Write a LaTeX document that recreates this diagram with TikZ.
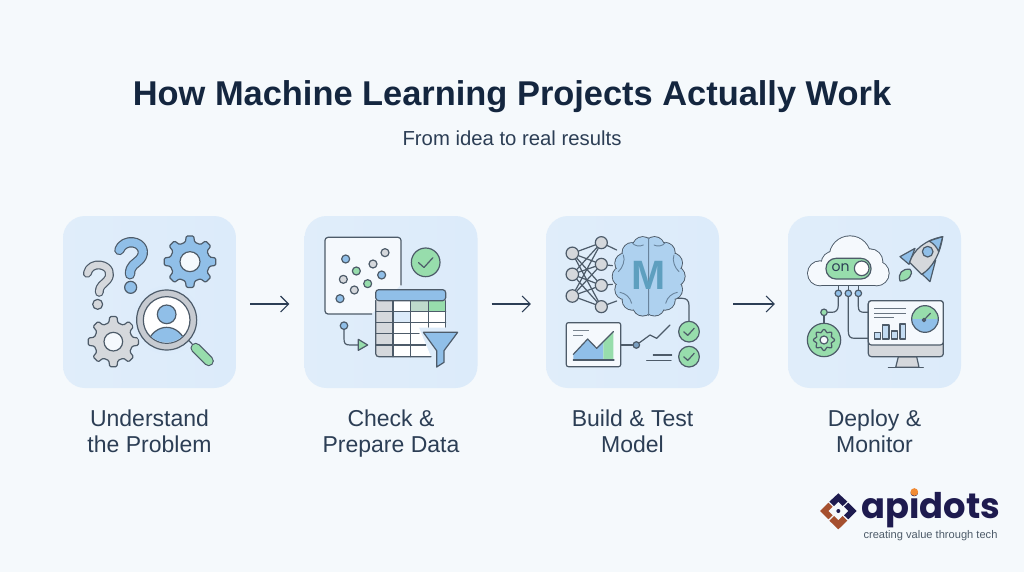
\documentclass[tikz,border=0pt]{standalone}
\usepackage{fontspec}
\setmainfont{Liberation Sans}
\newfontfamily\logofont{Poppins}
\usetikzlibrary{arrows.meta,calc}
\definecolor{bgc}{HTML}{F5F9FC}
\definecolor{panelc}{HTML}{DCEBFA}
\definecolor{inkc}{HTML}{14263F}
\definecolor{subc}{HTML}{2C3E55}
\definecolor{linec}{HTML}{4D5B69}
\definecolor{bluec}{HTML}{90BFE8}
\definecolor{grayc}{HTML}{D5D8DC}
\definecolor{greenc}{HTML}{97DDAC}
\definecolor{whitec}{HTML}{F5F9FD}
\definecolor{navyc}{HTML}{1E1B4F}
\definecolor{rustc}{HTML}{A5502F}
\definecolor{orangec}{HTML}{F08A34}
\definecolor{mletter}{HTML}{5E9FBF}
\tikzset{
  panel/.style={rectangle,rounded corners=22pt,minimum width=173pt,minimum height=172pt,inner sep=0pt,left color=panelc!85!bgc,right color=panelc,draw=none},
  flowarrow/.style={draw=subc,line width=1.1pt,-{Straight Barb[length=8pt,width=16pt,line width=1.1pt]}},
  caption/.style={font=\fontsize{23}{26}\selectfont,text=subc,align=center,inner sep=0pt,anchor=north},
  ic/.style={draw=linec,line width=1.2pt,line join=round,line cap=round},
  dot/.style={circle,draw=linec,line width=1.2pt,inner sep=0pt},
  icon/.style={x=0.33333pt,y=-0.33333pt}
}
% gear: cx cy router rroot rhole teeth fill
\newcommand{\gearicon}[7]{%
  \begin{scope}[shift={(#1,#2)}]
    \draw[ic,fill=#7,rounded corners=1.2pt] ({-0.3*360/#6}:#4)
      \foreach \i in {1,...,#6}{
        -- ({(\i-1.18)*360/#6}:#3) -- ({(\i-0.82)*360/#6}:#3) -- ({(\i-0.7)*360/#6}:#4) -- ({(\i-0.3)*360/#6}:#4)
      } -- cycle;
    \draw[ic,fill=whitec] (0,0) circle (#5);
  \end{scope}}
% doubled stroke
\newcommand{\fatstroke}[3]{%
  \draw[linec,line width=#2+2.4pt,line cap=round,line join=round] #3;
  \draw[#1,line width=#2,line cap=round,line join=round] #3;}
\newcommand{\okmark}[3]{%
  \draw[ic,fill=greenc] (#1,#2) circle (#3);
  \draw[ic] (#1-0.5*#3,#2+0.02*#3) -- (#1-0.12*#3,#2+0.36*#3) -- (#1+0.5*#3,#2-0.32*#3);}
\begin{document}
\begin{tikzpicture}[x=1pt,y=-1pt]
\useasboundingbox (0,0) rectangle (1024,572);
\fill[bgc] (0,0) rectangle (1024,572);

\node[inner sep=0pt,text=inkc] (title) at (512,97) {\fontsize{34.4}{40}\selectfont\bfseries How Machine Learning Projects Actually Work};
\node[inner sep=0pt,text=subc] (sub) at (512,138) {\fontsize{20.3}{24}\selectfont From idea to real results};

\node[panel] (p1) at (149.5,302) {};
\node[panel] (p2) at (391,302) {};
\node[panel] (p3) at (632.5,302) {};
\node[panel] (p4) at (874.5,302) {};

\draw[flowarrow] ($(p1.east)+(14,2)$) -- ($(p2.west)+(-15,2)$);
\draw[flowarrow] ($(p2.east)+(14,2)$) -- ($(p3.west)+(-15,2)$);
\draw[flowarrow] ($(p3.east)+(14,2)$) -- ($(p4.west)+(-13,2)$);

\node[caption] (c1) at (149.5,410) {Understand\\the Problem};
\node[caption] (c2) at (391,410) {Check \&\\Prepare Data};
\node[caption] (c3) at (632.5,410) {Build \& Test\\Model};
\node[caption] (c4) at (874.5,410) {Deploy \&\\Monitor};

%% ---------- panel 1
\begin{scope}[shift={(50,205)},icon]
  \fatstroke{grayc}{6.5pt}{(112,205) .. controls (116,185) and (135,178) .. (150,180) .. controls (178,184) and (186,207) .. (172,225) .. controls (160,240) and (148,240) .. (148,262)}
  \draw[ic,fill=grayc] (143,298) circle (15);
  \fatstroke{bluec}{8pt}{(208,135) .. controls (214,118) and (232,110) .. (248,112) .. controls (276,115) and (288,142) .. (270,163) .. controls (256,178) and (240,180) .. (240,208)}
  \draw[ic,fill=bluec] (242,247) circle (18);
  \gearicon{420}{170}{78}{60}{30}{8}{bluec}
  \gearicon{190}{410}{76}{58}{28}{8}{grayc}
  \fill[panelc] (350,345) circle (102);
  \draw[ic] (415,405) -- (434,425);
  \fatstroke{greenc}{8pt}{(437,429) -- (476,468)}
  \draw[ic,fill=grayc!90!linec] (350,345) circle (90);
  \draw[ic,fill=white] (350,345) circle (70);
  \begin{scope}
    \clip (350,345) circle (68);
    \draw[ic,fill=bluec] (290,420) .. controls (300,385) and (325,367) .. (350,367) .. controls (375,367) and (400,385) .. (410,420) -- cycle;
  \end{scope}
  \draw[ic,fill=bluec] (350,328) circle (28);
\end{scope}

%% ---------- panel 2
\begin{scope}[shift={(295,205)},icon]
  \draw[ic,fill=whitec,rounded corners=3pt] (230,327) -- (90,327) -- (90,97) -- (318,97) -- (318,240);
  \foreach \x/\y/\c in {152/162/bluec,270/143/grayc,234/177/grayc,184/198/greenc,260/210/bluec,145/223/grayc,218/236/greenc,178/255/grayc,135/281/bluec}
    \draw[ic,fill=\c] (\x,\y) circle (12);
  \okmark{392}{172}{43}
  % table
  \fill[white] (242,262) -- (452,262) -- (452,368) -- (372,368) -- (408,455) -- (242,455) -- cycle;
  \fill[grayc] (242,287) rectangle (294,455);
  \fill[greenc] (400,287) rectangle (452,320);
  \fill[greenc!35!grayc] (347,287) rectangle (400,320);
  \fill[panelc] (294,320) rectangle (347,352);
  \draw[ic,fill=bluec,rounded corners=3pt] (242,287) -- (242,254) -- (452,254) -- (452,287) -- cycle;
  \draw[ic,rounded corners=3pt] (408,455) -- (242,455) -- (242,287);
  \draw[ic] (452,287) -- (452,366);
  \draw[ic] (294,287) -- (294,455) (347,287) -- (347,455) (400,287) -- (400,366);
  \draw[ic] (242,320) -- (452,320) (242,352) -- (452,352) (242,385) -- (372,385) (242,420) -- (392,420);
  \draw[ic,fill=bluec] (385,382) -- (488,382) -- (447,437) -- (447,472) -- (425,486) -- (425,437) -- cycle;
  % small flow
  \node[dot,fill=bluec,minimum size=7.5pt] (fa) at (147,362) {};
  \coordinate (fb) at (190,420);
  \draw[ic] (fa) -- (147,400) .. controls (147,415) and (150,420) .. (165,420) -- (fb);
  \draw[ic,fill=greenc] (190,403) -- (218,420) -- (190,436) -- cycle;
\end{scope}

%% ---------- panel 3
\begin{scope}[shift={(535,205)},icon]
  \foreach \n/\y in {a/145,b/208,c/273} \node[dot,fill=grayc,minimum size=12.5pt] (n\n) at (112,\y) {};
  \foreach \n/\y in {p/113,q/178,r/241,s/305} \node[dot,fill=grayc,minimum size=12pt] (n\n) at (199,\y) {};
  \foreach \a in {a,b,c} \foreach \b in {p,q,r,s} \draw[ic] (n\a) -- (n\b);
  \draw[ic] (np) -- (245,135) (nq) -- (232,182) (nr) -- (232,238) (ns) -- (245,288);
  % wire below brain
  \draw[ic] (425,280) -- (442,280) .. controls (456,280) and (462,288) .. (462,302) -- (462,350);
  % brain
  \foreach \a in {0,25.7,...,340} \draw[ic] (341,214) ++(\a:79 and 91) circle (30);
  \foreach \a in {0,25.7,...,340} \fill[bluec!60!panelc] (341,214) ++(\a:79 and 91) circle (29);
  \fill[bluec!60!panelc] (341,214) ellipse (85 and 97);
  \draw[linec!60!bluec,line width=0.9pt,line cap=round]
    (341,98) -- (341,332)
    (290,112) .. controls (300,125) and (315,125) .. (325,120)
    (392,112) .. controls (382,125) and (367,125) .. (357,120)
    (250,200) .. controls (262,190) and (272,165) .. (265,150)
    (432,200) .. controls (420,190) and (410,165) .. (417,150)
    (255,262) .. controls (270,265) and (285,275) .. (290,295)
    (427,262) .. controls (412,265) and (397,275) .. (392,295);
  \node[inner sep=0pt,text=mletter] (m) at (341,212) {\fontsize{41}{44}\selectfont\bfseries M};
  % chart card
  \draw[ic,fill=whitec,rounded corners=2pt] (94,353) rectangle (257,485);
  \draw[linec!75,line width=1pt] (115,375) -- (162,375) (115,392) -- (145,392);
  \fill[bluec] (115,465) -- (115,448) -- (158,402) -- (185,430) -- (205,410) -- (205,465) -- cycle;
  \fill[greenc] (205,465) -- (205,410) -- (235,380) -- (235,465) -- cycle;
  \draw[ic] (115,448) -- (158,402) -- (185,430) -- (235,380);
  \draw[ic] (115,465) -- (237,465);
  \node[dot,fill=bluec!70!linec,minimum size=6.5pt] (tn) at (304,420) {};
  \draw[ic] (257,420) -- (tn);
  \draw[ic] (tn) -- (345,390) -- (365,400) -- (405,360);
  \draw[ic] (355,450) -- (410,450) (335,466) -- (408,466);
  \okmark{462}{380}{31}
  \okmark{462}{455}{31}
\end{scope}

%% ---------- panel 4
\begin{scope}[shift={(775,205)},icon]
  % connectors
  \node[dot,fill=bluec,minimum size=6.5pt] (d1) at (190,265) {};
  \node[dot,fill=bluec,minimum size=6.5pt] (d2) at (220,265) {};
  \node[dot,fill=bluec,minimum size=6.5pt] (d3) at (250,265) {};
  \node[dot,fill=greenc,minimum size=6.5pt] (d4) at (147,322) {};
  \draw[ic] (190,235) -- (d1) (220,235) -- (d2) (250,235) -- (d3);
  \draw[ic] (d1) -- (190,300) .. controls (190,316) and (182,322) .. (170,322) -- (d4);
  \draw[ic] (d2) -- (220,380) .. controls (220,395) and (226,400) .. (240,400) -- (285,400);
  \draw[ic] (d3) -- (250,305) .. controls (250,318) and (256,322) .. (268,322) -- (285,322);
  \draw[ic] (d4) -- (147,358);
  % cloud
  \foreach \x/\y/\r in {135/205/37,175/175/36,225/155/62,285/170/38,305/205/37}
    \draw[ic] (\x,\y) circle (\r);
  \draw[ic] (135,242) -- (305,242);
  \foreach \x/\y/\r in {135/205/36,175/175/35,225/155/61,285/170/37,305/205/36}
    \fill[whitec] (\x,\y) circle (\r);
  \fill[whitec] (135,190) rectangle (305,241);
  % toggle
  \draw[ic,fill=greenc,rounded corners=10pt] (153,160) rectangle (288,222);
  \node[inner sep=0pt,text=subc] (on) at (197,189) {\fontsize{14}{16}\selectfont\logofont on};
  \draw[ic,fill=white] (260,190) circle (22);
  % gear badge
  \draw[ic,fill=greenc] (147,405) circle (50);
  \gearicon{147}{405}{32}{24}{12}{8}{greenc}
  % monitor
  \draw[ic,fill=grayc] (370,455) -- (425,455) -- (432,487) -- (362,487) -- cycle;
  \draw[ic] (340,487) -- (445,487);
  \draw[ic,fill=grayc,rounded corners=3pt] (280,287) rectangle (505,455);
  \draw[ic,fill=whitec,rounded corners=3pt] (280,420) -- (280,287) -- (505,287) -- (505,420) -- cycle;
  \draw[linec!85,line width=1pt] (298,310) -- (392,310) (298,324) -- (392,324) (298,338) -- (358,338);
  \foreach \xa/\ya/\xb in {298/382/317,323/360/342,350/378/368,375/357/392}
    \draw[ic,fill=bluec!50!whitec] (\xa,\ya) rectangle (\xb,402);
  \fill[greenc] (410,342) arc[start angle=180,end angle=360,radius=40] -- cycle;
  \fill[bluec] (410,342) arc[start angle=180,end angle=0,radius=40] -- cycle;
  \draw[ic] (450,342) circle (40);
  \draw[ic] (445,347) -- (466,325);
  \draw[ic,fill=linec] (447,345) circle (5);
  % rocket
  \draw[ic,fill=greenc] (375,228) .. controls (368,205) and (382,190) .. (405,193) .. controls (418,208) and (400,228) .. (375,228) -- cycle;
  \draw[ic,fill=bluec] (375,155) -- (420,130) -- (402,178) -- cycle;
  \draw[ic,fill=bluec] (442,208) -- (482,165) -- (465,230) -- cycle;
  \draw[ic,fill=grayc] (404,172) .. controls (415,135) and (450,105) .. (503,95) .. controls (495,150) and (470,190) .. (440,208) -- cycle;
  \draw[ic,fill=bluec] (462,108) -- (503,95) -- (491,140) .. controls (485,125) and (475,115) .. (462,108) -- cycle;
  \draw[ic,fill=bluec] (458,140) circle (16);
\end{scope}

%% ---------- logo
\begin{scope}[shift={(800,480)},icon]
  \fill[navyc] (115,40) -- (142,65) -- (128,78) -- (115,65) -- (102,78) -- (88,65) -- cycle;
  \fill[rustc] (60,93) -- (85,68) -- (98,80) -- (85,93) -- (98,106) -- (85,118) -- cycle;
  \fill[navyc] (170,93) -- (145,68) -- (132,80) -- (145,93) -- (132,106) -- (145,118) -- cycle;
  \fill[rustc] (115,148) -- (88,122) -- (102,108) -- (115,121) -- (128,108) -- (142,122) -- cycle;
  \fill[navyc] (115,93) circle (6);
  \node[inner sep=0pt,anchor=base west,text=navyc] (logo) at (183,115) {\logofont\fontsize{35.3}{40}\selectfont\bfseries apidots};
  \fill[orangec] (343,36) circle (11.5);
  \node[inner sep=0pt,anchor=base west,text=linec] (tag) at (190,174) {\fontsize{11.1}{14}\selectfont creating value through tech};
\end{scope}
\end{tikzpicture}
\end{document}
